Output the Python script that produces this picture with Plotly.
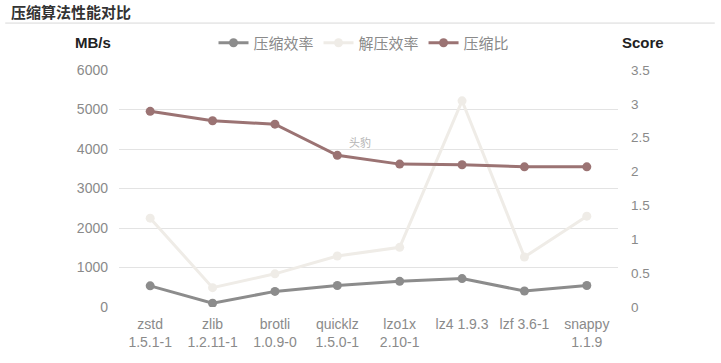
import plotly.graph_objects as go

categories = ["zstd<br>1.5.1-1", "zlib<br>1.2.11-1", "brotli<br>1.0.9-0", "quicklz<br>1.5.0-1",
              "lzo1x<br>2.10-1", "lz4 1.9.3", "lzf 3.6-1", "snappy<br>1.1.9"]
compress_speed = [535, 95, 395, 545, 650, 720, 405, 545]
decompress_speed = [2250, 490, 840, 1290, 1510, 5220, 1265, 2300]
compress_ratio = [2.89, 2.75, 2.70, 2.24, 2.11, 2.10, 2.07, 2.07]
left_ticks = [0, 1000, 2000, 3000, 4000, 5000, 6000]
right_ticks = [0, 0.5, 1, 1.5, 2, 2.5, 3, 3.5]

C_GRAY = "#8c8c8c"
C_LIGHT = "#efece7"
C_MAUVE = "#9b7373"
FONT = "Liberation Sans, Noto Sans CJK SC"
CJK = "Noto Sans CJK SC"
TICK = dict(size=14, color="#8a8a8a", family=FONT)

fig = go.Figure()
fig.add_trace(go.Scatter(x=categories, y=compress_speed, name="压缩效率", mode="lines+markers",
                         line=dict(color=C_GRAY, width=3), marker=dict(size=9, color=C_GRAY)))
fig.add_trace(go.Scatter(x=categories, y=decompress_speed, name="解压效率", mode="lines+markers",
                         line=dict(color=C_LIGHT, width=3), marker=dict(size=9, color=C_LIGHT)))
fig.add_trace(go.Scatter(x=categories, y=compress_ratio, name="压缩比", mode="lines+markers",
                         yaxis="y2",
                         line=dict(color=C_MAUVE, width=3), marker=dict(size=9, color=C_MAUVE)))

fig.update_layout(
    width=721, height=363,
    margin=dict(l=119, r=103, t=70, b=56, autoexpand=False),
    paper_bgcolor="white", plot_bgcolor="white",
    font=dict(family=FONT, color="#8a8a8a", size=14),
    showlegend=True,
    legend=dict(orientation="h", x=0.491, xanchor="center", y=1.114, yanchor="middle",
                font=dict(size=15, color="#8a8a8a", family=CJK),
                bgcolor="rgba(0,0,0,0)", tracegroupgap=0),
    xaxis=dict(type="category", range=[-0.5, 7.5], showgrid=False, zeroline=False,
               showline=False, ticks="", tickfont=TICK, ticklabelstandoff=7, automargin=False),
    yaxis=dict(range=[0, 6000], tickvals=left_ticks, showgrid=True, gridcolor="#e3e3e3",
               gridwidth=1, zeroline=False, showline=False, ticks="",
               tickfont=TICK, ticklabelstandoff=10, automargin=False),
    yaxis2=dict(range=[0, 3.5], tickvals=right_ticks, overlaying="y", side="right",
                showgrid=False, zeroline=False, showline=False, ticks="",
                tickfont=dict(size=13.5, color="#8a8a8a", family=FONT),
                ticklabelstandoff=12, automargin=False),
    shapes=[dict(type="line", xref="paper", yref="paper", x0=-0.228, x1=1.194,
                 y0=1.198, y1=1.198, line=dict(color="#d9d9d9", width=1))],
    annotations=[
        dict(text="<b>压缩算法性能对比</b>", xref="paper", yref="paper", x=-0.22, y=1.246,
             xanchor="left", yanchor="middle", showarrow=False,
             font=dict(size=15, color="#333333", family=CJK)),
        dict(text="<b>MB/s</b>", xref="paper", yref="paper", x=-0.052, y=1.118,
             xanchor="center", yanchor="middle", showarrow=False,
             font=dict(size=15, color="#222222", family=FONT)),
        dict(text="<b>Score</b>", xref="paper", yref="paper", x=1.05, y=1.118,
             xanchor="center", yanchor="middle", showarrow=False,
             font=dict(size=15, color="#222222", family=FONT)),
        dict(text="头豹", xref="paper", yref="paper", x=0.483, y=0.696,
             xanchor="center", yanchor="middle", showarrow=False,
             font=dict(size=11, color="#b5b5b5", family=CJK)),
    ],
)

fig.write_html("out.html", config={"displayModeBar": False},
               post_script="document.body.style.margin='0';")
